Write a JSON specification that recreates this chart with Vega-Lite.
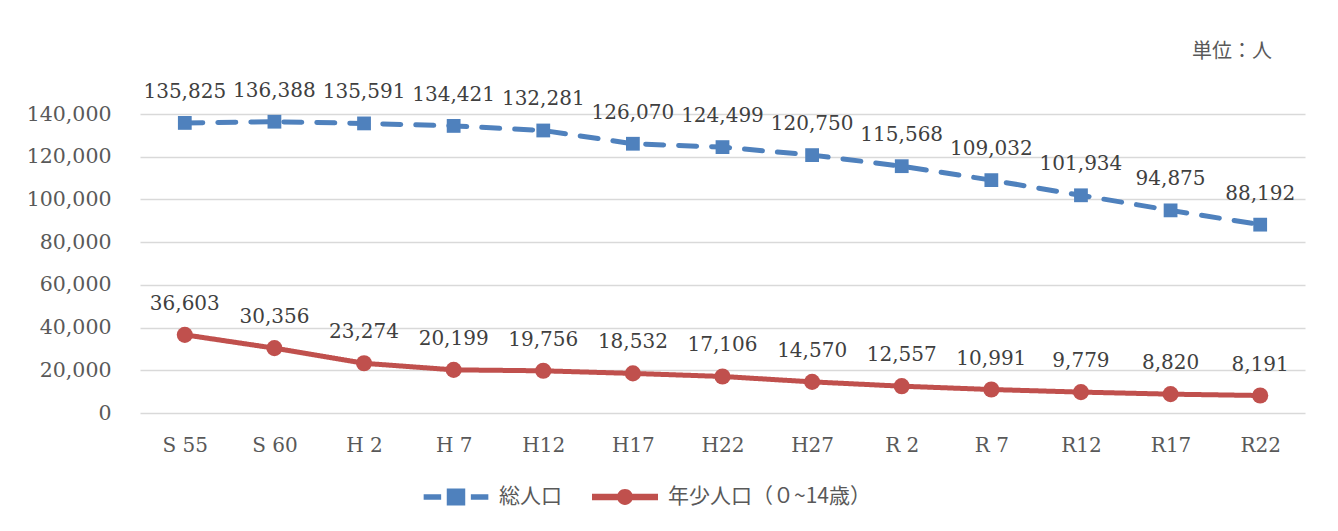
{
  "$schema": "https://vega.github.io/schema/vega-lite/v6.json",
  "autosize": "none",
  "width": 1165,
  "height": 299,
  "padding": {"left": 140, "top": 114, "right": 33, "bottom": 118},
  "background": "white",
  "config": {
    "view": {"stroke": null},
    "font": "DejaVu Serif"
  },
  "title": {
    "text": "単位：人",
    "anchor": "end",
    "frame": "group",
    "orient": "top",
    "offset": 19,
    "dx": -33,
    "font": "Noto Sans CJK JP",
    "fontSize": 20,
    "fontWeight": "normal",
    "color": "#595959"
  },
  "data": {
    "values": [
      {"period": "S 55", "series": "総人口", "value": 135825},
      {"period": "S 60", "series": "総人口", "value": 136388},
      {"period": "H 2", "series": "総人口", "value": 135591},
      {"period": "H 7", "series": "総人口", "value": 134421},
      {"period": "H12", "series": "総人口", "value": 132281},
      {"period": "H17", "series": "総人口", "value": 126070},
      {"period": "H22", "series": "総人口", "value": 124499},
      {"period": "H27", "series": "総人口", "value": 120750},
      {"period": "R 2", "series": "総人口", "value": 115568},
      {"period": "R 7", "series": "総人口", "value": 109032},
      {"period": "R12", "series": "総人口", "value": 101934},
      {"period": "R17", "series": "総人口", "value": 94875},
      {"period": "R22", "series": "総人口", "value": 88192},
      {"period": "S 55", "series": "年少人口（０~14歳）", "value": 36603},
      {"period": "S 60", "series": "年少人口（０~14歳）", "value": 30356},
      {"period": "H 2", "series": "年少人口（０~14歳）", "value": 23274},
      {"period": "H 7", "series": "年少人口（０~14歳）", "value": 20199},
      {"period": "H12", "series": "年少人口（０~14歳）", "value": 19756},
      {"period": "H17", "series": "年少人口（０~14歳）", "value": 18532},
      {"period": "H22", "series": "年少人口（０~14歳）", "value": 17106},
      {"period": "H27", "series": "年少人口（０~14歳）", "value": 14570},
      {"period": "R 2", "series": "年少人口（０~14歳）", "value": 12557},
      {"period": "R 7", "series": "年少人口（０~14歳）", "value": 10991},
      {"period": "R12", "series": "年少人口（０~14歳）", "value": 9779},
      {"period": "R17", "series": "年少人口（０~14歳）", "value": 8820},
      {"period": "R22", "series": "年少人口（０~14歳）", "value": 8191}
    ]
  },
  "encoding": {
    "x": {
      "field": "period",
      "type": "ordinal",
      "sort": null,
      "scale": {"type": "point", "padding": 0.5},
      "axis": {
        "title": null,
        "labelAngle": 0,
        "labelFont": "DejaVu Serif",
        "labelFontSize": 20,
        "labelColor": "#595959",
        "labelPadding": 22,
        "ticks": false,
        "domain": false,
        "grid": false
      }
    },
    "y": {
      "field": "value",
      "type": "quantitative",
      "scale": {"domain": [0, 140000], "nice": false},
      "axis": {
        "title": null,
        "values": [0, 20000, 40000, 60000, 80000, 100000, 120000, 140000],
        "labelExpr": "format(datum.value, ',')",
        "labelFont": "DejaVu Serif",
        "labelFontSize": 20.5,
        "labelColor": "#595959",
        "labelPadding": 29,
        "ticks": false,
        "domain": false,
        "grid": true,
        "gridColor": "#D9D9D9",
        "gridWidth": 1.5
      }
    },
    "color": {
      "field": "series",
      "type": "nominal",
      "scale": {"domain": ["総人口", "年少人口（０~14歳）"], "range": ["#4F81BD", "#C0504D"]},
      "legend": {
        "title": null,
        "orient": "none",
        "direction": "horizontal",
        "legendX": 283,
        "legendY": 350,
        "labelFont": "Noto Sans CJK JP",
        "labelFontSize": 21,
        "labelColor": "#595959",
        "labelLimit": 0,
        "symbolSize": 4356,
        "symbolStrokeWidth": 0,
        "symbolOpacity": 1,
        "columnPadding": 30,
        "labelOffset": 10,
        "encode": {
          "symbols": {
            "update": {
              "shape": {"signal": "datum.value === '総人口' ? 'M-0.98,-0.08H-0.45V0.08H-0.98Z M-0.28,-0.26H0.28V0.26H-0.28Z M0.45,-0.08H0.98V0.08H0.45Z' : 'M-1,-0.1H1V0.1H-1Z M-0.24,0 A0.24,0.24 0 1,1 0.24,0 A0.24,0.24 0 1,1 -0.24,0Z'"},
              "fill": {"signal": "datum.value === '総人口' ? '#4F81BD' : '#C0504D'"},
              "size": {"value": 4356},
              "strokeWidth": {"value": 0}
            }
          }
        }
      }
    }
  },
  "layer": [
    {
      "mark": {"type": "line", "strokeWidth": 5, "strokeCap": "round"},
      "encoding": {
        "strokeDash": {
          "field": "series",
          "type": "nominal",
          "scale": {"domain": ["総人口", "年少人口（０~14歳）"], "range": [[18, 15], [1, 0]]},
          "legend": null
        }
      }
    },
    {
      "transform": [{"filter": "datum.series === '総人口'"}],
      "mark": {"type": "point", "shape": "square", "size": 190, "filled": true, "opacity": 1}
    },
    {
      "transform": [{"filter": "datum.series !== '総人口'"}],
      "mark": {"type": "point", "shape": "circle", "size": 260, "filled": true, "opacity": 1}
    },
    {
      "mark": {"type": "text", "dy": -31, "baseline": "middle", "font": "DejaVu Serif", "fontSize": 20, "color": "#404040"},
      "encoding": {
        "text": {"field": "value", "type": "quantitative", "format": ","},
        "color": {"value": "#404040"}
      }
    }
  ]
}
